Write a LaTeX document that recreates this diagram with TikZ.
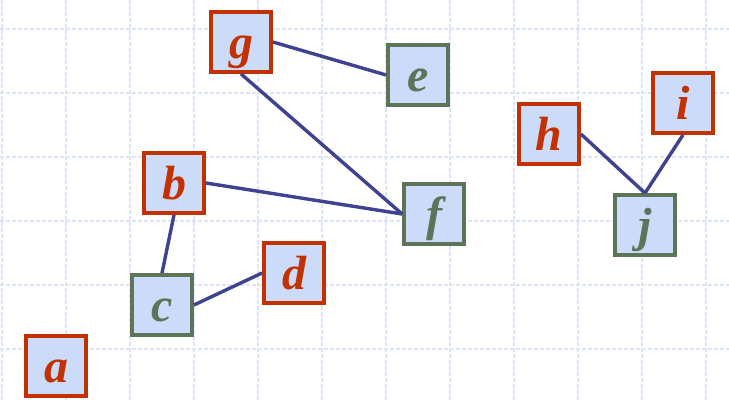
\documentclass[tikz,border=0pt]{standalone}
\usepackage{fontspec}
\setmainfont{Liberation Serif}
\definecolor{boxfill}{HTML}{CDDBFA}
\definecolor{redb}{HTML}{C23200}
\definecolor{greenb}{HTML}{5C7457}
\definecolor{edgec}{HTML}{3E4290}
\definecolor{gridc}{HTML}{DCE3FA}
\tikzset{
  vbox/.style={draw, fill=boxfill, line width=3.8pt, minimum size=60pt, inner sep=0pt,
    text height=36pt, text depth=3pt, font=\fontsize{48}{48}\selectfont\bfseries\itshape},
  redv/.style={vbox, draw=redb, text=redb},
  greenv/.style={vbox, draw=greenb, text=greenb},
  edge/.style={draw=edgec, line width=3.4pt},
  gridline/.style={draw=gridc, line width=1.3pt, dash pattern=on 4pt off 2pt}
}
\begin{document}
\begin{tikzpicture}[x=1pt,y=-1pt]
\useasboundingbox (0,0) rectangle (729,401);
\fill[white] (0,0) rectangle (729,401);
\foreach \x in {2,66,130,194,258,322,386,450,514,578,642,706}
  \draw[gridline] (\x,0) -- (\x,401);
\foreach \y in {29,93,157,221,285,349}
  \draw[gridline] (0,\y) -- (729,\y);
\node[redv] (g) at (241,42) {g};
\node[greenv] (e) at (418,75) {e};
\node[redv] (b) at (174,183) {b};
\node[greenv] (f) at (434,214) {f};
\node[greenv] (c) at (162,305) {c};
\node[redv] (d) at (294,273) {d};
\node[redv] (a) at (56,366) {a};
\node[redv] (h) at (549,134) {h};
\node[redv] (i) at (683,103) {i};
\node[greenv] (j) at (645,225) {j};
\draw[edge] (g.east) -- (e.west);
\draw[edge] (g.south) -- (f.west);
\draw[edge] (b.east) -- (f.west);
\draw[edge] (b.south) -- (c.north);
\draw[edge] (c.east) -- (d.west);
\draw[edge] (h.east) -- (j.north);
\draw[edge] (i.south) -- (j.north);
\end{tikzpicture}
\end{document}
